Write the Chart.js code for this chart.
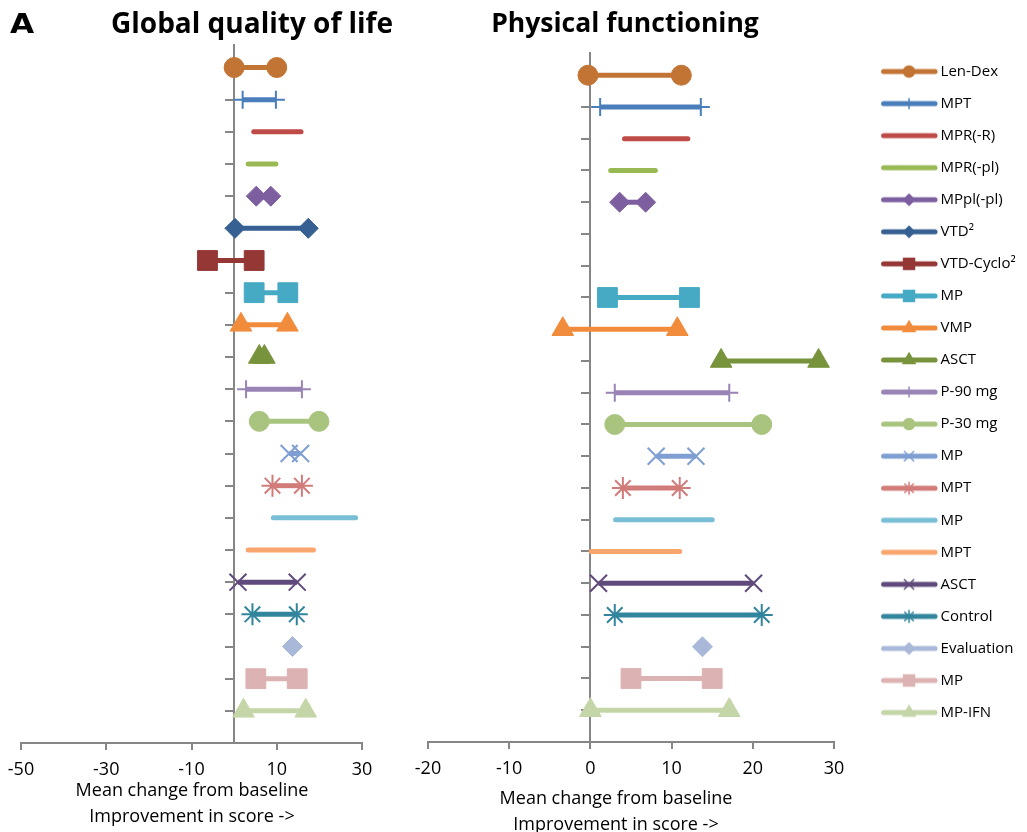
<!DOCTYPE html>
<html>
<head>
<meta charset="utf-8">
<script src="https://cdn.jsdelivr.net/npm/chart.js@4.4.0/dist/chart.umd.min.js"></script>
<style>
  body { margin: 0; background: #fff; width: 1027px; height: 832px; overflow: hidden; position: relative; font-family: "Open Sans", sans-serif; }
  canvas { position: absolute; top: 0; z-index: 1; }
  .txt { position: absolute; color: #000; white-space: nowrap; z-index: 2; }
  .head { font-weight: bold; line-height: 28px; transform: translateX(-50%); }
  .axisTitle { font-size: 18px; line-height: 25.5px; text-align: center; transform: translateX(-50%); }
</style>
</head>
<body>
<canvas id="qolChart" width="400" height="832" style="left:0"></canvas>
<canvas id="pfChart" width="462" height="832" style="left:400px"></canvas>
<canvas id="legendChart" width="400" height="832" style="left:862px"></canvas>

<div class="txt" style="left:10px;top:10px;font-family:'DejaVu Sans',sans-serif;font-weight:bold;font-size:26px;line-height:28px;transform:scaleX(1.2);transform-origin:left top;">A</div>
<div class="txt head" style="left:252px;top:8px;font-size:28px;">Global quality of life</div>
<div class="txt head" style="left:625px;top:8px;font-size:26.5px;">Physical functioning</div>

<div class="txt axisTitle" style="left:192px;top:777px;">Mean change from baseline<br>Improvement in score -&gt;</div>
<div class="txt axisTitle" style="left:616px;top:784px;line-height:26px;">Mean change from baseline<br>Improvement in score -&gt;</div>

<script>
// rows, top to bottom
const treatments = ['Len-Dex', 'MPT', 'MPR(-R)', 'MPR(-pl)', 'MPpl(-pl)', 'VTD²', 'VTD-Cyclo²', 'MP', 'VMP', 'ASCT',
    'P-90 mg', 'P-30 mg', 'MP', 'MPT', 'MP', 'MPT', 'ASCT', 'Control', 'Evaluation', 'MP', 'MP-IFN'];

// Global quality of life: mean change, two ends of each bar
const qolLow  = [0, 2, 4.6, 3.3, 5.2, 0.2, -6.25, 4.7, 1.6, 5.9, 2.8, 5.9, 12.9, 9.0, 9.2, 3.3, 0.9, 4.3, 13.7, 5.1, 2.2];
const qolHigh = [10, 9.8, 15.7, 9.8, 8.6, 17.4, 4.7, 12.6, 12.5, 7.1, 15.9, 19.9, 15.6, 15.9, 28.5, 18.6, 14.8, 14.7, null, 14.8, 16.8];

// Physical functioning
const pfLow  = [-0.3, 1.2, 4.2, 2.5, 3.6, null, null, 2.1, -3.4, 16.1, 3.0, 3.0, 8.1, 4.0, 3.1, 0.1, 1.0, 3.0, 13.8, 5.0, 0.0];
const pfHigh = [11.2, 13.6, 12.0, 8.0, 6.8, null, null, 12.2, 10.7, 28.1, 17.1, 21.1, 13.0, 11.0, 15.0, 11.0, 20.1, 21.1, null, 15.0, 17.1];

const qolTicks = [-50, -30, -10, 10, 30];
const pfTicks = [-20, -10, 0, 10, 20, 30];

const colors = ['#C27434', '#4A7EBB', '#BE4B48', '#98B954', '#7D5FA0', '#376092', '#953735', '#46AAC4', '#F08C3C', '#77933C',
    '#9984B5', '#A9C47F', '#7F9ED2', '#D27C7A', '#78BFD6', '#F9A56E', '#604A7B', '#31859C', '#A9B8D9', '#DDB2B2', '#C4D6A8'];
const markers = ['circle', 'cross', null, null, 'rectRot', 'rectRot', 'rect', 'rect', 'triangle', 'triangle',
    'cross', 'circle', 'crossRot', 'star', null, null, 'crossRot', 'star', 'rectRot', 'rect', 'triangle'];

const markerRadius = { circle: 10, cross: 9, crossRot: 12, star: 11, rectRot: 10, rect: 14, triangle: 12.5 };
const axisGray = '#868686';

function buildDatasets(low, high) {
    return treatments.map((name, i) => {
        const row = treatments.length - i;
        const pts = [];
        if (low[i] !== null) pts.push({ x: low[i], y: row });
        if (high[i] !== null) pts.push({ x: high[i], y: row });
        const style = markers[i];
        const thin = style === 'cross' || style === 'crossRot' || style === 'star';
        return {
            label: name,
            data: pts,
            showLine: true,
            borderColor: colors[i],
            backgroundColor: colors[i],
            borderWidth: 5,
            borderCapStyle: style ? 'butt' : 'round',
            pointStyle: style || 'circle',
            pointRadius: style ? markerRadius[style] : 0,
            pointBorderWidth: thin ? 2 : 1,
            pointBackgroundColor: colors[i],
            pointBorderColor: colors[i],
            clip: false
        };
    });
}

function panelOptions(tickValues, pad) {
    return {
        responsive: false,
        animation: false,
        events: [],
        layout: { padding: pad },
        plugins: { legend: { display: false }, tooltip: { enabled: false } },
        scales: {
            x: {
                type: 'linear',
                min: tickValues[0],
                max: tickValues[tickValues.length - 1],
                afterBuildTicks: s => { s.ticks = tickValues.map(v => ({ value: v })); },
                grid: { drawOnChartArea: false, drawTicks: true, tickLength: 7, lineWidth: 2, color: axisGray },
                border: { color: axisGray, width: 2 },
                ticks: { color: '#000', autoSkip: false, maxRotation: 0, padding: 2,
                    font: { family: 'Open Sans', size: 18, lineHeight: '36px' } }
            },
            y: {
                type: 'linear',
                min: 0,
                max: 21.7,
                position: { x: 0 },
                afterBuildTicks: s => { s.ticks = treatments.map((_, i) => ({ value: i + 1 })); },
                ticks: { display: false },
                grid: { drawOnChartArea: false, drawTicks: true, tickLength: 8, lineWidth: 2, color: axisGray },
                border: { color: axisGray, width: 2 }
            }
        }
    };
}

new Chart(document.getElementById('qolChart'), {
    type: 'scatter',
    data: { datasets: buildDatasets(qolLow, qolHigh) },
    options: panelOptions(qolTicks, { left: 21, right: 38, top: 45, bottom: 42 })
});

new Chart(document.getElementById('pfChart'), {
    type: 'scatter',
    data: { datasets: buildDatasets(pfLow, pfHigh) },
    options: panelOptions(pfTicks, { left: 28, right: 28, top: 53, bottom: 43 })
});

// legend icons: short line with the series marker in the middle
function makeSwatch(i) {
    const c = document.createElement('canvas');
    c.width = 64;
    c.height = 20;
    const ctx = c.getContext('2d');
    ctx.strokeStyle = colors[i];
    ctx.fillStyle = colors[i];
    ctx.lineWidth = 5;
    ctx.lineCap = 'round';
    ctx.beginPath();
    ctx.moveTo(9.5, 10);
    ctx.lineTo(61, 10);
    ctx.stroke();
    if (markers[i]) {
        ctx.lineWidth = 1.5;
        Chart.helpers.drawPoint(ctx, { pointStyle: markers[i], radius: markerRadius[markers[i]] * 0.55, borderWidth: 1.5 }, 35, 10);
    }
    return c;
}

const swatches = treatments.map((_, i) => makeSwatch(i));

new Chart(document.getElementById('legendChart'), {
    type: 'scatter',
    data: {
        datasets: treatments.map((name, i) => ({ label: name, data: [], borderColor: colors[i], backgroundColor: colors[i] }))
    },
    options: {
        responsive: false,
        animation: false,
        events: [],
        layout: { padding: { top: 47, left: 0 } },
        scales: { x: { display: false }, y: { display: false } },
        plugins: {
            tooltip: { enabled: false },
            legend: {
                position: 'left',
                align: 'start',
                labels: {
                    usePointStyle: true,
                    pointStyleWidth: 54,
                    padding: 17.05,
                    color: '#000',
                    font: { family: 'Open Sans', size: 15 },
                    generateLabels: () => treatments.map((name, i) => ({
                        text: name,
                        pointStyle: swatches[i],
                        fillStyle: colors[i],
                        strokeStyle: colors[i],
                        lineWidth: 0,
                        hidden: false,
                        datasetIndex: i
                    }))
                }
            }
        }
    }
});
</script>
</body>
</html>
